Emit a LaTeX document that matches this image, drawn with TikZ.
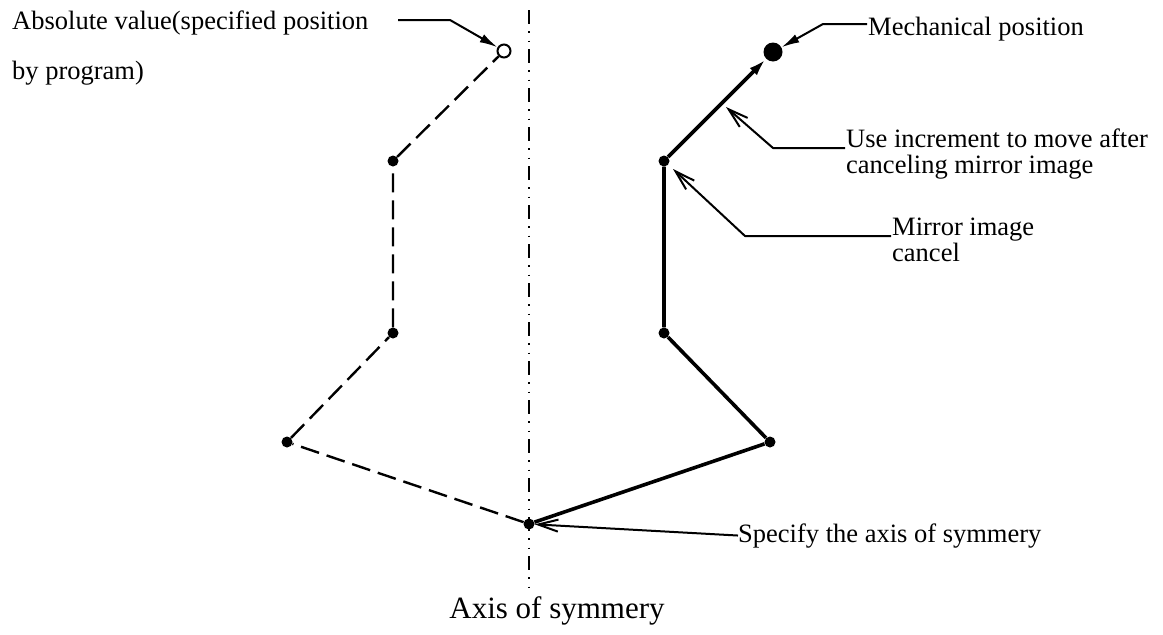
\documentclass[tikz,border=0pt]{standalone}
\usepackage{fontspec}
\setmainfont{Liberation Serif}
\usepackage{tikz}
\usetikzlibrary{arrows.meta, calc}
\definecolor{inkblack}{RGB}{0, 0, 0}
\tikzset{
  dotpt/.style={circle, fill=inkblack, inner sep=0pt, minimum size=11pt},
  bigdot/.style={circle, fill=inkblack, inner sep=0pt, minimum size=19pt},
  opendot/.style={circle, draw=inkblack, line width=2pt, fill=white, inner sep=0pt, minimum size=13pt},
  mirrorpath/.style={line width=2.4pt, color=inkblack, dash pattern=on 19pt off 8pt},
  movepath/.style={line width=3.6pt, color=inkblack, line join=round},
  axisline/.style={line width=2pt, color=inkblack,
                   dash pattern=on 14pt off 7pt on 1.5pt off 8pt on 1.5pt off 7pt},
  leader/.style={line width=2pt, color=inkblack, line join=round},
  fillarrow/.style={leader, -{Latex[length=18pt, width=9pt]}},
  barbarrow/.style={leader, -{Straight Barb[length=20pt, width=12pt]}},
  note/.style={font=\fontsize{26.5}{26}\selectfont, inner sep=0pt, align=left, text=inkblack},
}

\begin{document}
\begin{tikzpicture}[x=1pt, y=-1pt]
  \useasboundingbox (0,0) rectangle (1163,635);

  \coordinate (axtop) at (529,10);
  \coordinate (axbot) at (529,594);
  \draw[axisline] (axtop) -- (axbot);

  \node[dotpt] (o) at (529,524) {};
  \node[opendot] (p0) at (504,51) {};
  \node[dotpt] (p1) at (393,161) {};
  \node[dotpt] (p2) at (393,333) {};
  \node[dotpt] (p3) at (287,442) {};
  \node[bigdot] (q0) at (773,52) {};
  \node[dotpt] (q1) at (664,161) {};
  \node[dotpt] (q2) at (664,333) {};
  \node[dotpt] (q3) at (770,442) {};

  \draw[mirrorpath] (o) -- (p3) -- (p2) -- (p1) -- (p0);
  \draw[movepath] (o) -- (q3) -- (q2) -- (q1);
  \draw[movepath, -{Latex[length=18pt, width=10pt]}] (q1) -- (q0);

  % multi-line notes sit on the baseline of their last line
  \node[note, font=\fontsize{26.5}{50}\selectfont, anchor=base west] (absval) at (12,79)
       {Absolute value(specified position\\by program)};
  \coordinate (abslead) at (398,20);
  \draw[fillarrow] (abslead) -- ++(52,0) -- (p0);

  \node[note, anchor=base west] (mech) at (868,35) {Mechanical position};
  \coordinate (mechlead) at (867,24);
  \draw[fillarrow] (mechlead) -- ++(-44,0) -- (q0);

  \node[note, anchor=base west] (incr) at (846,173)
       {Use increment to move after\\canceling mirror image};
  \coordinate (incrlead) at (845,148);
  \coordinate (incrtip) at (726,107);
  \draw[barbarrow] (incrlead) -- ++(-72,0) -- (incrtip);

  \node[note, anchor=base west] (mirr) at (892,261) {Mirror image\\cancel};
  \coordinate (mirrlead) at (891,236);
  \coordinate (mirrtip) at (673,169);
  \draw[barbarrow] (mirrlead) -- ++(-146,0) -- (mirrtip);

  \node[note, anchor=base west] (spec) at (738,542) {Specify the axis of symmery};
  \draw[barbarrow] (spec.west) -- (o);

  \node[font=\fontsize{31}{31}\selectfont, anchor=base, inner sep=0pt] (axlab) at (557,618)
       {Axis of symmery};
\end{tikzpicture}
\end{document}
